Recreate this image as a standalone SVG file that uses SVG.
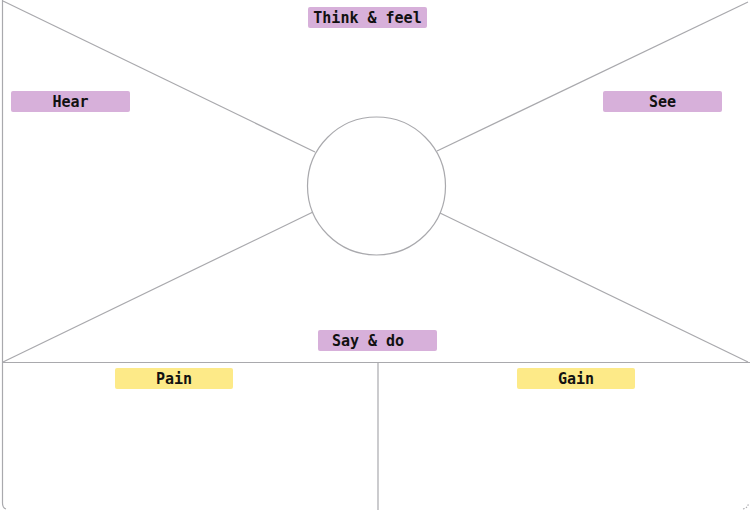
<svg xmlns="http://www.w3.org/2000/svg" width="750" height="510" viewBox="0 0 750 510">
<style>
.ln{stroke:#a9a9ad;stroke-width:1.2;fill:none}
.p{fill:#d7b0da}
.y{fill:#fdea88}
.t{font-family:"DejaVu Sans Mono","Liberation Mono",monospace;font-weight:bold;font-size:15px;fill:#111;text-anchor:middle;dominant-baseline:central}
</style>
<rect width="750" height="510" fill="#fff"/>
<g id="connectors">
<path class="ln" d="M2.5 0 V503 Q2.5 508 6 509"/>
<path class="ln" d="M743 509 Q748 508 748.5 503" stroke-dasharray="1.5 1.5"/>
<line class="ln" x1="3" y1="1" x2="315" y2="152"/>
<line class="ln" x1="748" y1="2" x2="437" y2="151"/>
<line class="ln" x1="3" y1="362" x2="313" y2="212"/>
<line class="ln" x1="748" y1="362" x2="440" y2="213"/>
<line class="ln" x1="2" y1="362.5" x2="750" y2="362.5"/>
<line class="ln" x1="378" y1="362.5" x2="378" y2="510"/>
</g>
<g id="center"><circle class="ln" cx="376.5" cy="186" r="69"/></g>
<g id="think"><rect class="p" x="308" y="7" width="119" height="21" rx="2"/><text class="t" x="367.5" y="17.5">Think &amp; feel</text></g>
<g id="hear"><rect class="p" x="11" y="91" width="119" height="21" rx="2"/><text class="t" x="70.5" y="101.5">Hear</text></g>
<g id="see"><rect class="p" x="603" y="91" width="119" height="21" rx="2"/><text class="t" x="662.5" y="101.5">See</text></g>
<g id="say"><rect class="p" x="318" y="330" width="119" height="21" rx="2"/><text class="t" x="368" y="340.5">Say &amp; do</text></g>
<g id="pain"><rect class="y" x="115" y="368" width="118" height="21" rx="2"/><text class="t" x="174" y="378.5">Pain</text></g>
<g id="gain"><rect class="y" x="517" y="368" width="118" height="21" rx="2"/><text class="t" x="576" y="378.5">Gain</text></g>
</svg>
